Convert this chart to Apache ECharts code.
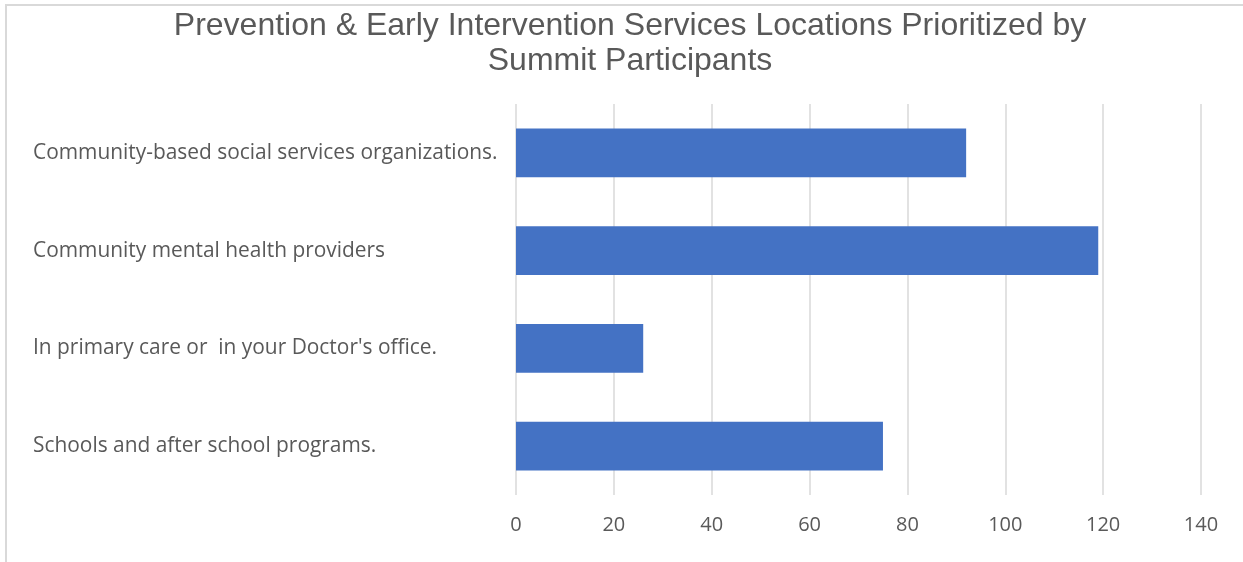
<!DOCTYPE html>
<html>
<head>
<meta charset="utf-8">
<script src="https://cdn.jsdelivr.net/npm/echarts@6/dist/echarts.min.js"></script>
<style>
  html, body { margin: 0; padding: 0; background: #fff; }
  #chart { width: 1243px; height: 562px; }
</style>
</head>
<body>
<div id="chart"></div>
<script>
// categories, bottom to top like the Excel original
var categories = [
    "Schools and after school programs.",
    "In primary care or  in your Doctor's office.",
    "Community mental health providers",
    "Community-based social services organizations."
];
var counts = [75, 26, 119, 92];
var xTicks = [0, 20, 40, 60, 80, 100, 120, 140];

var myChart = echarts.init(document.getElementById("chart"), null, { renderer: "canvas" });

myChart.setOption({
    backgroundColor: "#fff",
    animation: false,
    title: {
        text: "Prevention & Early Intervention Services Locations Prioritized by\nSummit Participants",
        left: 625,
        textAlign: "center",
        top: 4,
        textStyle: {
            fontFamily: "Liberation Sans, Arial",
            fontSize: 32,
            fontWeight: "normal",
            color: "#595959",
            lineHeight: 35
        }
    },
    graphic: [{
        type: "rect",
        shape: { x: 6, y: 5, width: 1250, height: 570 },
        style: { fill: "none", stroke: "#d9d9d9", lineWidth: 2 },
        silent: true
    }],
    grid: { left: 516, right: 42, top: 104, bottom: 67 },
    xAxis: {
        type: "value",
        min: xTicks[0],
        max: xTicks[xTicks.length - 1],
        interval: 20,
        axisLine: { show: false },
        axisTick: { show: false },
        splitLine: { lineStyle: { color: "#d9d9d9", width: 1.5 } },
        axisLabel: {
            color: "#595959",
            fontFamily: "Open Sans",
            fontSize: 20,
            margin: 20
        }
    },
    yAxis: {
        type: "category",
        data: categories,
        axisLine: { show: false },
        axisTick: { show: false },
        axisLabel: {
            align: "left",
            margin: 483,
            color: "#595959",
            fontFamily: "Open Sans",
            fontSize: 20.9,
            padding: [3, 0, 0, 0]
        }
    },
    series: [{
        type: "bar",
        data: counts,
        barWidth: "50%",
        itemStyle: { color: "#4472c4" }
    }]
});
</script>
</body>
</html>
